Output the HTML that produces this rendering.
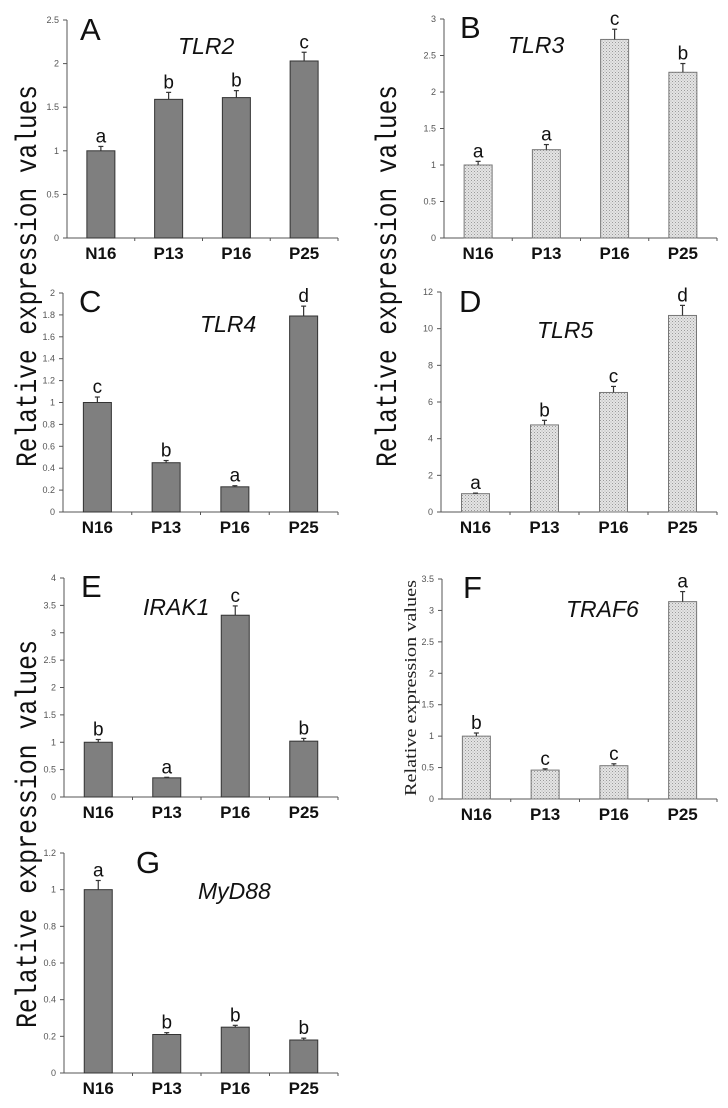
<!DOCTYPE html>
<html><head><meta charset="utf-8">
<style>
html,body{margin:0;padding:0;background:#fff;}
svg{display:block;}
</style></head>
<body>
<svg id="fig" width="728" height="1108" viewBox="0 0 728 1108" xmlns="http://www.w3.org/2000/svg">
<defs>
<pattern id="stipple" width="3" height="3" patternUnits="userSpaceOnUse">
<rect width="3" height="3" fill="#e4e4e4"/>
<rect x="0" y="0" width="1" height="1" fill="#9a9a9a"/>
<rect x="1.5" y="1.5" width="1" height="1" fill="#b0b0b0"/>
</pattern>
</defs>
<text transform="translate(36,467) rotate(-90)" font-family="Liberation Mono, monospace" font-size="30" textLength="382" lengthAdjust="spacingAndGlyphs" fill="#111">Relative expression values</text>
<text transform="translate(396,467) rotate(-90)" font-family="Liberation Mono, monospace" font-size="30" textLength="382" lengthAdjust="spacingAndGlyphs" fill="#111">Relative expression values</text>
<text transform="translate(36,1028) rotate(-90)" font-family="Liberation Mono, monospace" font-size="30" textLength="388" lengthAdjust="spacingAndGlyphs" fill="#111">Relative expression values</text>
<text transform="translate(416,796) rotate(-90)" font-family="Liberation Serif, serif" font-size="17" textLength="216" lengthAdjust="spacingAndGlyphs" fill="#222">Relative expression values</text>
</svg>
<script>
const categories = ["N16","P13","P16","P25"];
const tlr2Values = [1.0, 1.59, 1.61, 2.03];
const tlr2Errors = [0.05, 0.08, 0.08, 0.10];
const tlr2Letters = ["a","b","b","c"];
const tlr2Ticks = [0,0.5,1,1.5,2,2.5];
const tlr3Values = [1.0, 1.21, 2.72, 2.27];
const tlr3Errors = [0.05, 0.07, 0.14, 0.12];
const tlr3Letters = ["a","a","c","b"];
const tlr3Ticks = [0,0.5,1,1.5,2,2.5,3];
const tlr4Values = [1.0, 0.45, 0.23, 1.79];
const tlr4Errors = [0.05, 0.02, 0.01, 0.09];
const tlr4Letters = ["c","b","a","d"];
const tlr4Ticks = [0,0.2,0.4,0.6,0.8,1,1.2,1.4,1.6,1.8,2];
const tlr5Values = [1.0, 4.75, 6.52, 10.72];
const tlr5Errors = [0.03, 0.25, 0.33, 0.55];
const tlr5Letters = ["a","b","c","d"];
const tlr5Ticks = [0,2,4,6,8,10,12];
const irak1Values = [1.0, 0.35, 3.32, 1.02];
const irak1Errors = [0.05, 0.01, 0.17, 0.05];
const irak1Letters = ["b","a","c","b"];
const irak1Ticks = [0,0.5,1,1.5,2,2.5,3,3.5,4];
const traf6Values = [1.0, 0.46, 0.53, 3.14];
const traf6Errors = [0.05, 0.02, 0.03, 0.16];
const traf6Letters = ["b","c","c","a"];
const traf6Ticks = [0,0.5,1,1.5,2,2.5,3,3.5];
const myd88Values = [1.0, 0.21, 0.25, 0.18];
const myd88Errors = [0.05, 0.01, 0.01, 0.01];
const myd88Letters = ["a","b","b","b"];
const myd88Ticks = [0,0.2,0.4,0.6,0.8,1,1.2];

const NS = "http://www.w3.org/2000/svg";
const svg = document.getElementById("fig");
function mk(tag, attrs, parent){
  const e = document.createElementNS(NS, tag);
  for (const k in attrs) e.setAttribute(k, attrs[k]);
  (parent||svg).appendChild(e);
  return e;
}
function fmt(v){ return String(Math.round(v*10)/10); }

function panel(p){
  const g = mk("g", {});
  
  
  const max = p.ticks[p.ticks.length-1];
  const y = v => p.y0 - (v/max)*(p.y0 - p.yTop);
  const step = (p.xR - p.x0)/categories.length;
  const xc = i => p.x0 + step*(i+0.5);
  const ya = mk("line", {x1:p.x0, y1:p.yTop, x2:p.x0, y2:p.y0, stroke:"#555", "stroke-width":1}, g);
  
  
  const xa = mk("line", {x1:p.x0, y1:p.y0, x2:p.xR, y2:p.y0, stroke:"#555", "stroke-width":1}, g);
  
  
  p.ticks.forEach(t => {
    mk("line", {x1:p.x0-4, y1:y(t), x2:p.x0, y2:y(t), stroke:"#555"}, g);
    const tl = mk("text", {x:p.x0-8, y:y(t)+3, "text-anchor":"end", "font-family":"Liberation Sans, sans-serif", "font-size":9, fill:"#555"}, g);
    
    
    tl.textContent = fmt(t);
  });
  for (let i=1;i<=categories.length;i++){
    mk("line", {x1:p.x0+step*i, y1:p.y0, x2:p.x0+step*i, y2:p.y0+3, stroke:"#555"}, g);
  }
  categories.forEach((c,i) => {
    const v = p.values[i], e = p.errors[i];
    const bar = mk("rect", {x:xc(i)-14, y:y(v), width:28, height:p.y0-y(v), fill:p.fill, stroke:p.stroke, "stroke-width":1}, g);
    
    
    const eb = mk("line", {x1:xc(i), y1:y(v), x2:xc(i), y2:y(v+e), stroke:"#333", "stroke-width":1.2}, g);
    
    
    mk("line", {x1:xc(i)-2.5, y1:y(v+e), x2:xc(i)+2.5, y2:y(v+e), stroke:"#333", "stroke-width":1.2}, g);
    const lt = mk("text", {x:xc(i), y:y(v+e)-4, "text-anchor":"middle", "font-family":"Liberation Sans, sans-serif", "font-size":19, fill:"#111"}, g);
    
    
    lt.textContent = p.letters[i];
    const cl = mk("text", {x:xc(i), y:p.y0+21, "text-anchor":"middle", "font-family":"Liberation Sans, sans-serif", "font-size":17, "font-weight":"bold", fill:"#111"}, g);
    
    
    cl.textContent = c;
  });
  const pl = mk("text", {x:p.lx, y:p.ly, "font-family":"Liberation Sans, sans-serif", "font-size":31, fill:"#111"}, g);
  
  
  pl.textContent = p.letter;
  const tt = mk("text", {x:p.tx, y:p.ty, "font-family":"Liberation Sans, sans-serif", "font-size":23, "font-style":"italic", fill:"#111"}, g);
  
  
  tt.textContent = p.title;
}
const dark = "#7f7f7f", darkS = "#333", light = "url(#stipple)", lightS = "#777";
panel({id:"tlr2", letter:"A", title:"TLR2", values:tlr2Values, errors:tlr2Errors, letters:tlr2Letters, ticks:tlr2Ticks, x0:67, xR:338, yTop:20, y0:238, fill:dark, stroke:darkS, lx:80, ly:40, tx:178, ty:54});
panel({id:"tlr3", letter:"B", title:"TLR3", values:tlr3Values, errors:tlr3Errors, letters:tlr3Letters, ticks:tlr3Ticks, x0:444, xR:717, yTop:19, y0:238, fill:light, stroke:lightS, lx:460, ly:38, tx:508, ty:53});
panel({id:"tlr4", letter:"C", title:"TLR4", values:tlr4Values, errors:tlr4Errors, letters:tlr4Letters, ticks:tlr4Ticks, x0:63, xR:338, yTop:293, y0:512, fill:dark, stroke:darkS, lx:79, ly:312, tx:200, ty:332});
panel({id:"tlr5", letter:"D", title:"TLR5", values:tlr5Values, errors:tlr5Errors, letters:tlr5Letters, ticks:tlr5Ticks, x0:441, xR:717, yTop:292, y0:512, fill:light, stroke:lightS, lx:459, ly:312, tx:537, ty:338});
panel({id:"irak1", letter:"E", title:"IRAK1", values:irak1Values, errors:irak1Errors, letters:irak1Letters, ticks:irak1Ticks, x0:64, xR:338, yTop:578, y0:797, fill:dark, stroke:darkS, lx:81, ly:597, tx:143, ty:615});
panel({id:"traf6", letter:"F", title:"TRAF6", values:traf6Values, errors:traf6Errors, letters:traf6Letters, ticks:traf6Ticks, x0:442, xR:717, yTop:579, y0:799, fill:light, stroke:lightS, lx:463, ly:598, tx:566, ty:617});
panel({id:"myd88", letter:"G", title:"MyD88", values:myd88Values, errors:myd88Errors, letters:myd88Letters, ticks:myd88Ticks, x0:64, xR:338, yTop:853, y0:1073, fill:dark, stroke:darkS, lx:136, ly:873, tx:198, ty:899});
</script>
</body></html>
